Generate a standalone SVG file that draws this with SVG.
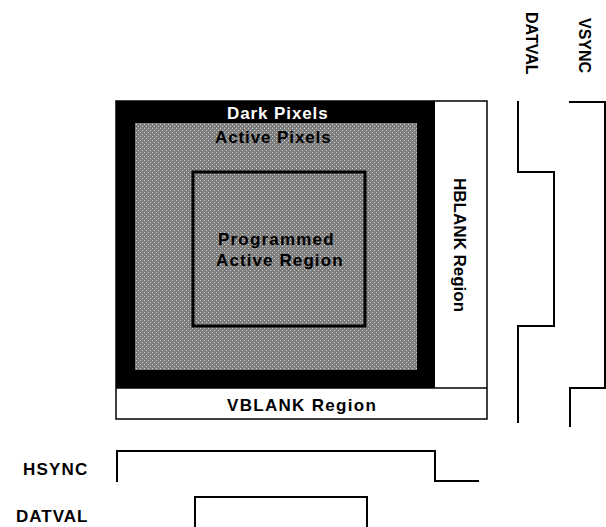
<svg xmlns="http://www.w3.org/2000/svg" width="606" height="527" viewBox="0 0 606 527">
<style>
.t{font-family:"Liberation Sans",Arial,sans-serif;font-weight:bold;font-size:17px;fill:#000}
.v{font-size:16px}
.w{fill:#fff}
.wave{fill:none;stroke:#000;stroke-width:2}
</style>
<defs>
<pattern id="dots" x="0" y="0" width="4" height="4" patternUnits="userSpaceOnUse">
<rect width="4" height="4" fill="#7d7d7d"/>
<rect x="0" y="0" width="1" height="1" fill="#d4d4d4"/>
<rect x="2" y="2" width="1" height="1" fill="#d4d4d4"/>
</pattern>
</defs>
<g id="frame">
<rect x="116" y="101" width="371" height="318" fill="#fff" stroke="#000" stroke-width="1.5"/>
<rect x="116" y="101" width="319" height="287" fill="#000"/>
<line x1="116" y1="388" x2="487" y2="388" stroke="#000" stroke-width="1.5"/>
</g>
<g id="dark-pixels">
<text class="t w" x="227" y="119" letter-spacing="0.9">Dark Pixels</text>
</g>
<g id="active-pixels">
<rect x="135" y="123" width="282" height="247" fill="url(#dots)"/>
<text class="t" x="215" y="143" letter-spacing="0.9">Active Pixels</text>
</g>
<g id="programmed-active-region">
<rect x="193" y="172" width="172" height="154" fill="none" stroke="#000" stroke-width="3"/>
<text class="t" x="218" y="245" letter-spacing="1.2">Programmed</text>
<text class="t" x="216" y="266" letter-spacing="1.1">Active Region</text>
</g>
<g id="hblank-region">
<text class="t" transform="translate(454,178) rotate(90)" font-size="16.5">HBLANK Region</text>
</g>
<g id="vblank-region">
<text class="t" x="227" y="411" letter-spacing="1.3">VBLANK Region</text>
</g>
<g id="labels">
<text class="t" x="23" y="475" letter-spacing="1.2">HSYNC</text>
<text class="t" x="16" y="522" letter-spacing="1">DATVAL</text>
<text class="t v" transform="translate(526,12) rotate(90)">DATVAL</text>
<text class="t v" transform="translate(579,18) rotate(90)">VSYNC</text>
</g>
<g id="connectors">
<polyline class="wave" points="518,101 518,172 554,172 554,326 518,326 518,423"/>
<polyline class="wave" points="569,102 605,102 605,388 570,388 570,427"/>
<polyline class="wave" points="117,482 117,451 435,451 435,481 479,481"/>
<polyline class="wave" points="195,527 195,497 367,497 367,527"/>
</g>
</svg>
